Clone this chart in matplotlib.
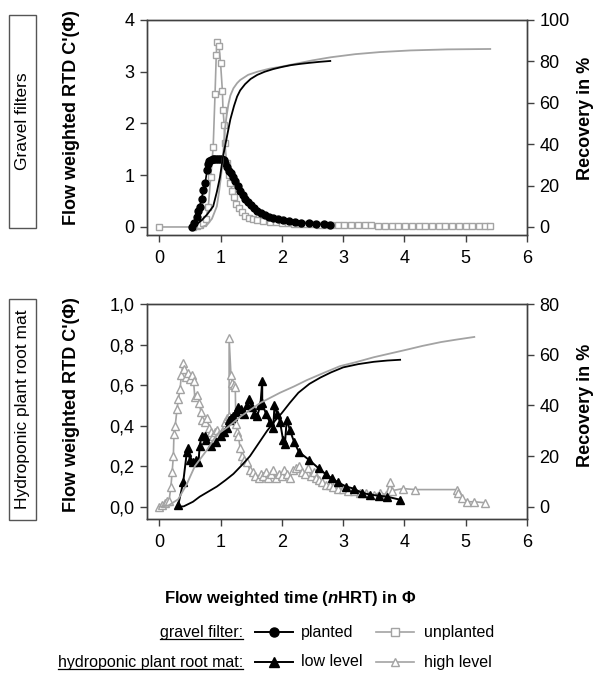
import numpy as np
import matplotlib
matplotlib.use("Agg")
import matplotlib.pyplot as plt
from matplotlib.lines import Line2D
from matplotlib.patches import Rectangle

plt.rcParams['font.family'] = ['Liberation Sans', 'DejaVu Sans']
plt.rcParams['mathtext.fontset'] = 'custom'
plt.rcParams['mathtext.rm'] = 'Liberation Sans'
plt.rcParams['mathtext.bf'] = 'Liberation Sans:bold'
plt.rcParams['mathtext.bfit'] = 'Liberation Sans:italic:bold'

# ---- gravel filters: RTD (left axis) ----
planted_x = [0.53, 0.57, 0.61, 0.64, 0.66, 0.69, 0.72, 0.75, 0.78, 0.80, 0.81,
             0.84, 0.87, 0.90, 0.93, 0.96, 0.99, 1.02, 1.05, 1.08, 1.11, 1.14,
             1.17, 1.20, 1.24, 1.28, 1.32, 1.36, 1.40, 1.45, 1.50, 1.55, 1.60,
             1.66, 1.72, 1.79, 1.86, 1.94, 2.02, 2.12, 2.22, 2.32, 2.44, 2.56,
             2.68, 2.79]
planted_c = [0.00, 0.08, 0.19, 0.30, 0.39, 0.55, 0.71, 0.85, 1.10, 1.22, 1.28,
             1.30, 1.31, 1.31, 1.32, 1.32, 1.32, 1.31, 1.29, 1.24, 1.16, 1.09,
             1.04, 0.97, 0.88, 0.79, 0.70, 0.62, 0.55, 0.48, 0.42, 0.36, 0.31,
             0.27, 0.23, 0.20, 0.17, 0.15, 0.13, 0.11, 0.09, 0.08, 0.07, 0.06,
             0.05, 0.04]

unplanted_x = [0.00, 0.55, 0.62, 0.67, 0.72, 0.76, 0.80, 0.84, 0.88, 0.91, 0.93,
               0.94, 0.975, 1.00, 1.03, 1.04, 1.06, 1.07, 1.10, 1.13, 1.16, 1.19,
               1.22, 1.26, 1.30, 1.35, 1.40, 1.46, 1.53, 1.60, 1.70, 1.80, 1.90,
               2.00, 2.10, 2.20, 2.30, 2.40, 2.50, 2.60, 2.70, 2.80, 2.91, 3.02,
               3.13, 3.24, 3.35, 3.46, 3.57, 3.68, 3.79, 3.90, 4.01, 4.12, 4.23,
               4.34, 4.45, 4.56, 4.67, 4.78, 4.89, 5.00, 5.11, 5.22, 5.31, 5.40]
unplanted_c = [0.00, 0.00, 0.01, 0.04, 0.08, 0.15, 0.39, 0.97, 1.55, 2.57, 3.32,
               3.57, 3.50, 3.17, 2.63, 2.26, 1.97, 1.62, 1.24, 1.00, 0.85, 0.70,
               0.57, 0.45, 0.36, 0.28, 0.22, 0.18, 0.15, 0.13, 0.11, 0.10, 0.09,
               0.08, 0.07, 0.06, 0.06, 0.05, 0.05, 0.04, 0.04, 0.04, 0.03, 0.03,
               0.03, 0.03, 0.03, 0.03, 0.02, 0.02, 0.02, 0.02, 0.02, 0.02, 0.02,
               0.02, 0.02, 0.02, 0.02, 0.02, 0.02, 0.02, 0.02, 0.02, 0.02, 0.02]

# ---- gravel filters: recovery (right axis, %) ----
planted_rec_x = [0.55, 0.62, 0.70, 0.78, 0.88, 0.94, 0.99, 1.04, 1.10, 1.16,
                 1.22, 1.27, 1.32, 1.40, 1.49, 1.60, 1.72, 1.86, 2.00, 2.15,
                 2.30, 2.45, 2.62, 2.79]
planted_rec = [0.0, 1.5, 3.5, 6.0, 10.0, 17.0, 24.0, 34.0, 43.0, 52.0,
               58.5, 63.0, 66.0, 69.0, 71.5, 73.5, 75.0, 76.3, 77.3, 78.2,
               78.8, 79.3, 79.8, 80.2]

unplanted_rec_x = [0.70, 0.78, 0.86, 0.94, 0.98, 1.02, 1.05, 1.07, 1.10, 1.13,
                   1.16, 1.21, 1.27, 1.32, 1.45, 1.60, 1.80, 2.00, 2.25, 2.50,
                   2.80, 3.20, 3.60, 4.10, 4.70, 5.40]
unplanted_rec = [0.0, 1.0, 4.0, 10.0, 18.0, 27.5, 38.0, 47.0, 54.0, 59.5,
                 63.5, 67.0, 69.5, 71.0, 73.5, 75.0, 76.5, 77.5, 79.0, 80.5,
                 82.0, 83.5, 84.5, 85.3, 85.8, 86.0]

# ---- hydroponic plant root mat: RTD (left axis) ----
low_x = [0.31, 0.39, 0.45, 0.47, 0.50, 0.55, 0.60, 0.64, 0.66, 0.69, 0.74,
         0.77, 0.85, 0.92, 1.00, 1.06, 1.10, 1.14, 1.17, 1.21, 1.25, 1.29,
         1.33, 1.38, 1.43, 1.47, 1.51, 1.55, 1.60, 1.65, 1.68, 1.68, 1.74,
         1.80, 1.86, 1.88, 1.92, 1.97, 2.02, 2.05, 2.08, 2.13, 2.20, 2.28,
         2.45, 2.60, 2.72, 2.82, 2.92, 3.05, 3.17, 3.30, 3.44, 3.58, 3.72,
         3.93]
low_c = [0.01, 0.12, 0.27, 0.29, 0.23, 0.22, 0.23, 0.22, 0.30, 0.35, 0.35,
         0.33, 0.30, 0.32, 0.35, 0.37, 0.39, 0.43, 0.44, 0.45, 0.47, 0.49,
         0.48, 0.46, 0.50, 0.53, 0.49, 0.46, 0.45, 0.50, 0.62, 0.51, 0.46,
         0.42, 0.39, 0.50, 0.46, 0.42, 0.33, 0.31, 0.43, 0.38, 0.32, 0.27,
         0.23, 0.19, 0.16, 0.14, 0.12, 0.10, 0.09, 0.07, 0.06, 0.055, 0.05,
         0.035]

high_x = [0.00, 0.05, 0.10, 0.13, 0.16, 0.19, 0.21, 0.23, 0.24, 0.26, 0.29,
          0.31, 0.34, 0.36, 0.39, 0.41, 0.44, 0.47, 0.50, 0.53, 0.56, 0.58,
          0.61, 0.65, 0.68, 0.70, 0.74, 0.78, 0.81, 0.85, 0.88, 0.91, 0.94,
          0.98, 1.02, 1.05, 1.08, 1.11, 1.14, 1.14, 1.17, 1.19, 1.22, 1.24,
          1.25, 1.27, 1.29, 1.32, 1.35, 1.39, 1.43, 1.48, 1.53, 1.57, 1.62,
          1.66, 1.70, 1.74, 1.78, 1.82, 1.86, 1.90, 1.95, 2.00, 2.04, 2.08,
          2.13, 2.18, 2.23, 2.28, 2.33, 2.38, 2.43, 2.48, 2.52, 2.56, 2.60,
          2.66, 2.72, 2.78, 2.84, 2.92, 3.00, 3.08, 3.17, 3.28, 3.38, 3.50,
          3.60, 3.70, 3.77, 3.80, 3.98, 4.18, 4.86, 4.87, 4.94, 5.02, 5.14,
          5.32]
high_c = [0.00, 0.01, 0.02, 0.03, 0.03, 0.10, 0.17, 0.25, 0.36, 0.40, 0.48,
          0.53, 0.58, 0.65, 0.71, 0.68, 0.64, 0.66, 0.63, 0.65, 0.62, 0.54,
          0.55, 0.51, 0.47, 0.43, 0.42, 0.44, 0.39, 0.37, 0.35, 0.37, 0.38,
          0.36, 0.37, 0.39, 0.42, 0.44, 0.45, 0.83, 0.65, 0.61, 0.60, 0.59,
          0.41, 0.37, 0.35, 0.29, 0.25, 0.23, 0.22, 0.18, 0.17, 0.15, 0.14,
          0.16, 0.15, 0.17, 0.14, 0.16, 0.18, 0.14, 0.16, 0.15, 0.18, 0.16,
          0.14, 0.18, 0.19, 0.20, 0.17, 0.16, 0.19, 0.15, 0.17, 0.14, 0.13,
          0.12, 0.11, 0.11, 0.10, 0.09, 0.09, 0.08, 0.08, 0.07, 0.07, 0.06,
          0.07, 0.06, 0.12, 0.08, 0.09, 0.085, 0.085, 0.07, 0.045, 0.025, 0.025,
          0.02]

# ---- hydroponic plant root mat: recovery (right axis, %) ----
low_rec_x = [0.30, 0.40, 0.55, 0.66, 0.80, 0.94, 1.08, 1.21, 1.35, 1.48, 1.62,
             1.76, 1.89, 2.00, 2.13, 2.27, 2.45, 2.63, 2.80, 3.00, 3.25, 3.50,
             3.72, 3.93]
low_rec = [0.0, 0.2, 2.0, 4.0, 6.0, 8.0, 10.5, 13.0, 16.5, 20.0, 25.0,
           30.0, 34.0, 37.0, 41.0, 45.0, 48.5, 51.0, 53.0, 55.0, 56.3, 57.2,
           57.7, 58.0]

high_rec_x = [0.00, 0.15, 0.31, 0.45, 0.58, 0.78, 0.94, 1.12, 1.32, 1.50, 1.65,
              1.81, 1.97, 2.20, 2.41, 2.70, 2.95, 3.20, 3.50, 3.77, 4.04, 4.30,
              4.60, 4.86, 5.14]
high_rec = [0.0, 0.5, 3.0, 9.0, 16.0, 22.5, 28.5, 31.5, 35.5, 38.5, 41.0,
            43.0, 45.0, 47.5, 50.0, 53.0, 55.5, 57.0, 59.0, 60.5, 62.0, 63.5,
            65.0, 66.0, 67.0]

x_ticks = [0, 1, 2, 3, 4, 5, 6]
top_yticks = [0, 1, 2, 3, 4]
top_rticks = [0, 20, 40, 60, 80, 100]
bot_yticks = [0.0, 0.2, 0.4, 0.6, 0.8, 1.0]
bot_ylabels = ["0,0", "0,2", "0,4", "0,6", "0,8", "1,0"]
bot_rticks = [0, 20, 40, 60, 80]

GRAY = "#a3a3a3"
SPINE = "#404040"
W, H = 603, 673


def box(l, t, r, b):
    return [l / W, 1 - b / H, (r - l) / W, (b - t) / H]


def style(ax):
    for s in ax.spines.values():
        s.set_color(SPINE)
        s.set_linewidth(1.0)
    ax.tick_params(direction="out", length=5, width=1, color=SPINE,
                   labelsize=13, pad=4)
    ax.tick_params(axis="x", pad=6)


fig = plt.figure(figsize=(W / 100, H / 100), dpi=100)

ax1 = fig.add_axes(box(147, 20, 527, 235))
ax2 = fig.add_axes(box(147, 304, 527, 519))

# top panel
ax1.plot(unplanted_x, unplanted_c, color=GRAY, lw=1.2, marker="s", ms=4.5,
         mfc="white", mec=GRAY, mew=1.0, zorder=2)
ax1.plot(planted_x, planted_c, color="black", lw=1.2, marker="o", ms=5,
         mfc="black", mec="black", zorder=3)
ax1.set_xlim(-0.2, 6)
ax1.set_ylim(-0.155, 4)
ax1.set_xticks(x_ticks)
ax1.set_yticks(top_yticks)
style(ax1)
ax1.tick_params(top=False, right=False)
r1 = ax1.twinx()
r1.plot(unplanted_rec_x, unplanted_rec, color=GRAY, lw=1.3)
r1.plot(planted_rec_x, planted_rec, color="black", lw=1.3)
r1.set_ylim(-0.155 * 25, 100)
r1.set_yticks(top_rticks)
style(r1)

# bottom panel
ax2.plot(high_x, high_c, color=GRAY, lw=1.2, marker="^", ms=5.5,
         mfc="white", mec=GRAY, mew=1.0, zorder=2)
ax2.plot(low_x, low_c, color="black", lw=1.4, marker="^", ms=5.5,
         mfc="black", mec="black", zorder=3)
ax2.set_xlim(-0.2, 6)
ax2.set_ylim(-0.06, 1.0)
ax2.set_xticks(x_ticks)
ax2.set_yticks(bot_yticks)
ax2.set_yticklabels(bot_ylabels)
style(ax2)
ax2.tick_params(top=False, right=False)
r2 = ax2.twinx()
r2.plot(high_rec_x, high_rec, color=GRAY, lw=1.3)
r2.plot(low_rec_x, low_rec, color="black", lw=1.3)
r2.set_ylim(-0.06 * 80, 80)
r2.set_yticks(bot_rticks)
style(r2)

# axis titles
for yc in (118, 405):
    fig.text(72 / W, 1 - yc / H, "Flow weighted RTD C'(\u03a6)", rotation=90,
             ha="center", va="center", fontsize=13, fontweight="bold")
    fig.text(586 / W, 1 - yc / H, "Recovery in %", rotation=90,
             ha="center", va="center", fontsize=13, fontweight="bold")

# side boxes
for (t, b, label) in ((15, 228, "Gravel filters"),
                      (299, 520, "Hydroponic plant root mat")):
    fig.patches.append(Rectangle((9 / W, 1 - b / H), 27 / W, (b - t) / H,
                                 transform=fig.transFigure, fill=False,
                                 ec="#555555", lw=1.0))
    fig.text(22.5 / W, 1 - (t + b) / 2 / H, label, rotation=90, ha="center",
             va="center", fontsize=12.5)

fig.text(290 / W, 1 - 598 / H, "Flow weighted time ($\\mathbfit{n}$HRT) in \u03a6",
         ha="center", va="center", fontsize=12, fontweight="bold")

# legend
renderer = fig.canvas.get_renderer()
rows = [(632, "gravel filter:", ("o", "planted"), ("s", "unplanted")),
        (662, "hydroponic plant root mat:", ("^", "low level"), ("^", "high level"))]
for y, head, (m1, l1), (m2, l2) in rows:
    fy = 1 - y / H
    t = fig.text(243 / W, fy, head, ha="right", va="center", fontsize=11.5)
    bb = t.get_window_extent(renderer).transformed(fig.transFigure.inverted())
    fig.add_artist(Line2D([bb.x0, bb.x1], [bb.y0 + 1 / H, bb.y0 + 1 / H],
                          color="black", lw=0.9, transform=fig.transFigure))
    fig.add_artist(Line2D([255 / W, 293 / W], [fy, fy], color="black", lw=1.4,
                          transform=fig.transFigure))
    fig.add_artist(Line2D([274 / W], [fy], marker=m1, ms=6.5, color="black",
                          transform=fig.transFigure))
    fig.text(301 / W, fy, l1, ha="left", va="center", fontsize=11.5)
    fig.add_artist(Line2D([376 / W, 414 / W], [fy, fy], color=GRAY, lw=1.2,
                          transform=fig.transFigure))
    fig.add_artist(Line2D([395 / W], [fy], marker=m2, ms=5.5, color=GRAY,
                          mfc="white", mec=GRAY, transform=fig.transFigure))
    fig.text(424 / W, fy, l2, ha="left", va="center", fontsize=11.5)

fig.savefig("out.png", dpi=100)
